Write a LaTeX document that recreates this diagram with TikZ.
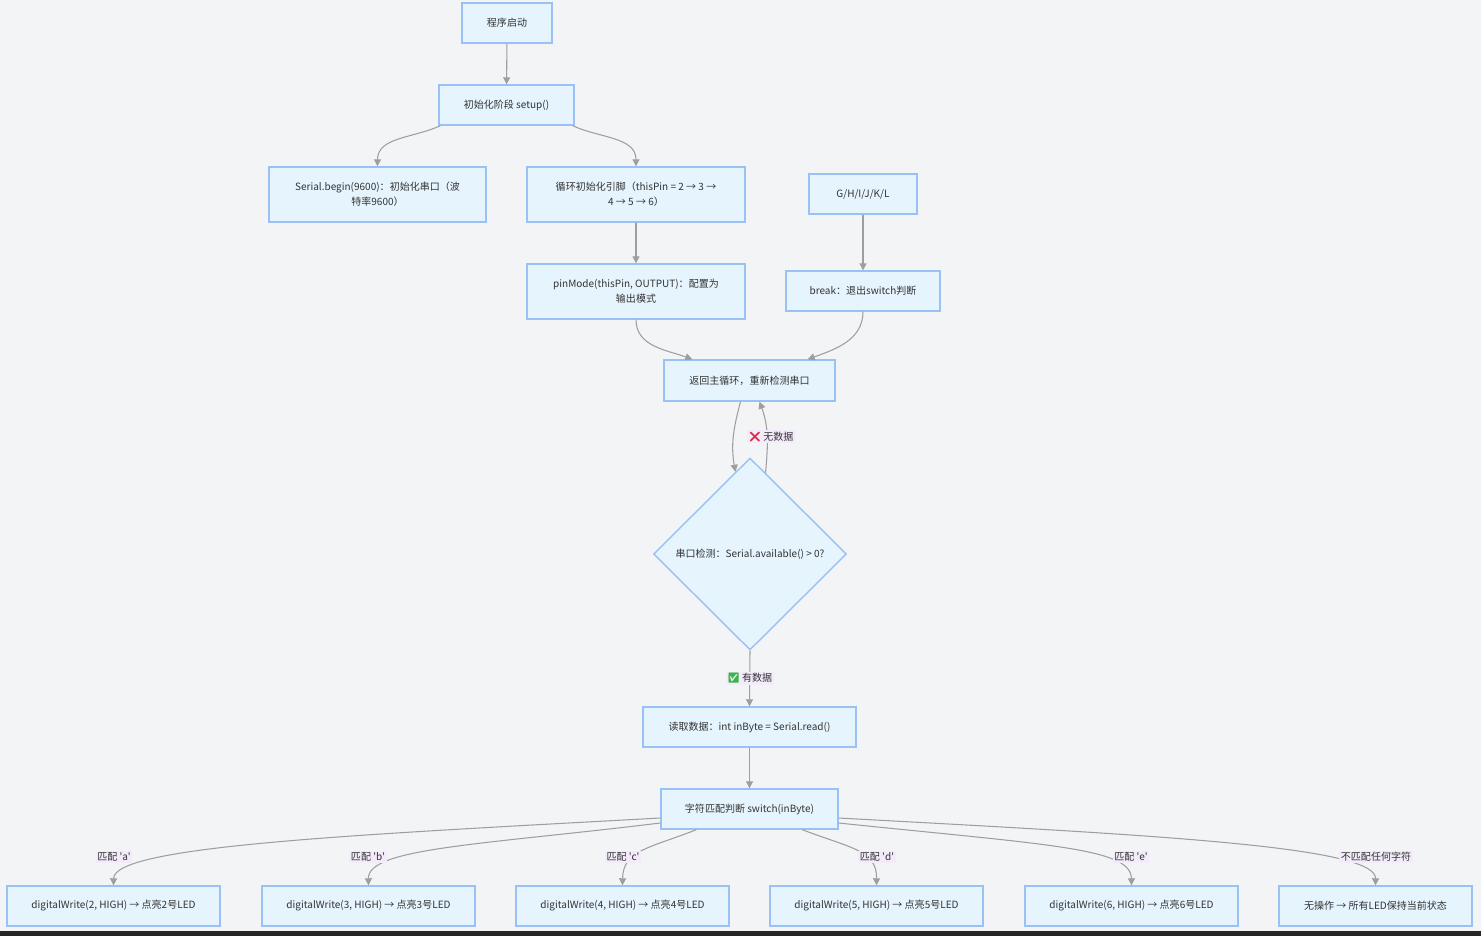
\documentclass[tikz,border=0pt]{standalone}
\usepackage{fontspec}
\setmainfont{Noto Sans CJK SC}
\newfontfamily\emoji{Noto Emoji}
\usetikzlibrary{shapes.geometric,arrows.meta,calc}
\definecolor{bg}{RGB}{243,244,246}
\definecolor{boxfill}{RGB}{229,244,253}
\definecolor{boxline}{RGB}{153,193,245}
\definecolor{linkgray}{RGB}{158,158,158}
\definecolor{lblfill}{RGB}{243,234,250}
\definecolor{txt}{RGB}{51,51,51}
\newcommand{\px}{0.02cm}
\newcommand{\q}[1]{\textquotesingle#1\textquotesingle}

\begin{document}
\begin{tikzpicture}[x=\px,y=-\px,
    font=\fontsize{5.7}{8.5}\selectfont, text=txt,
    box/.style 2 args={draw=boxline, fill=boxfill, line width=0.8pt, align=center,
      inner sep=0pt, minimum width=#1*\px, minimum height=#2*\px},
    cond/.style={diamond, draw=boxline, fill=boxfill, line width=0.8pt, inner sep=0pt,
      minimum width=193*\px, minimum height=192*\px},
    link/.style={draw=linkgray, line width=0.6pt, -{Triangle[length=4pt,width=4pt]}},
    lbl/.style={fill=lblfill, inner sep=1pt}]
    \useasboundingbox[fill=bg] (0,0) rectangle (1481,936);
    \fill[black!85] (0,931) rectangle (1481,936);

    \node[box={90}{40}] (start) at (507,23) {程序启动};
    \node[box={135}{40}] (setup) at (506.5,105) {初始化阶段 setup()};
    \node[box={217}{55}] (serial) at (377.5,194.5) {Serial.begin(9600)：初始化串口（波\\特率9600）};
    \node[box={218}{55}] (loop) at (636,194.5) {循环初始化引脚（thisPin = 2 → 3 →\\4 → 5 → 6）};
    \node[box={108}{40}] (ghi) at (863,194) {G/H/I/J/K/L};
    \node[box={218}{55}] (pin) at (636,291.5) {pinMode(thisPin, OUTPUT)：配置为\\输出模式};
    \node[box={154}{40}] (brk) at (863,291) {break：退出switch判断};
    \node[box={171}{41}] (ret) at (749.5,380.5) {返回主循环，重新检测串口};
    \node[cond] (dia) at (750,554) {串口检测：Serial.available() > 0?};
    \node[box={213}{40}] (rd) at (749.5,727) {读取数据：int inByte = Serial.read()};
    \node[box={177}{40}] (sw) at (749.5,809) {字符匹配判断 switch(inByte)};
    \node[box={213}{40}] (la) at (113.5,906) {digitalWrite(2, HIGH) → 点亮2号LED};
    \node[box={213}{40}] (lb) at (368.5,906) {digitalWrite(3, HIGH) → 点亮3号LED};
    \node[box={213}{40}] (lc) at (622.5,906) {digitalWrite(4, HIGH) → 点亮4号LED};
    \node[box={213}{40}] (ld) at (876.5,906) {digitalWrite(5, HIGH) → 点亮5号LED};
    \node[box={213}{40}] (le) at (1131.5,906) {digitalWrite(6, HIGH) → 点亮6号LED};
    \node[box={193}{40}] (lf) at (1375.5,906) {无操作 → 所有LED保持当前状态};

    \draw[link] (start) -- (setup);
    \draw[link] ($(setup.south west)+(2,0)$) to[out=-155,in=90] (serial.north);
    \draw[link] ($(setup.south east)+(-2,0)$) to[out=-25,in=90] (loop.north);
    \draw[link] (loop) -- (pin);
    \draw[link] (ghi) -- (brk);
    \draw[link] (pin.south) to[out=-90,in=160] ($(ret.north west)+(29,0)$);
    \draw[link] (brk.south) to[out=-90,in=20] ($(ret.north east)+(-28,0)$);
    \draw[link] ($(ret.south)+(-9,0)$) to[out=-105,in=100] ($(dia.north)!0.15!(dia.west)$);
    \draw[link] ($(dia.north)!0.16!(dia.east)$) to[out=85,in=-70]
      node[lbl, pos=0.5, xshift=4*\px] {{\emoji\textcolor[RGB]{221,46,68}{❌}} 无数据} ($(ret.south)+(10,0)$);
    \draw[link] (dia.south) -- node[lbl] {{\emoji\textcolor[RGB]{59,181,74}{✅}} 有数据} (rd.north);
    \draw[link] (rd) -- (sw);

    % switch branches
    \draw[link] ($(sw.west)+(0,9)$) .. controls (350,835) and (114,846) .. (la.north);
    \draw[link] ($(sw.west)+(0,14)$) .. controls (480,845) and (368,848) .. (lb.north);
    \draw[link] ($(sw.south west)+(36,0)$) .. controls (650,848) and (623,850) .. (lc.north);
    \draw[link] ($(sw.south west)+(142,0)$) .. controls (850,848) and (877,850) .. (ld.north);
    \draw[link] ($(sw.east)+(0,14)$) .. controls (1050,845) and (1131,848) .. (le.north);
    \draw[link] ($(sw.east)+(0,9)$) .. controls (1150,835) and (1376,846) .. (lf.north);
    \node[lbl] (ta) at (114,857) {匹配 \q{a}};
    \node[lbl] (tb) at (368,857) {匹配 \q{b}};
    \node[lbl] (tc) at (623,857) {匹配 \q{c}};
    \node[lbl] (td) at (877,857) {匹配 \q{d}};
    \node[lbl] (te) at (1131,857) {匹配 \q{e}};
    \node[lbl] (tf) at (1376,857) {不匹配任何字符};
  \end{tikzpicture}
\end{document}
